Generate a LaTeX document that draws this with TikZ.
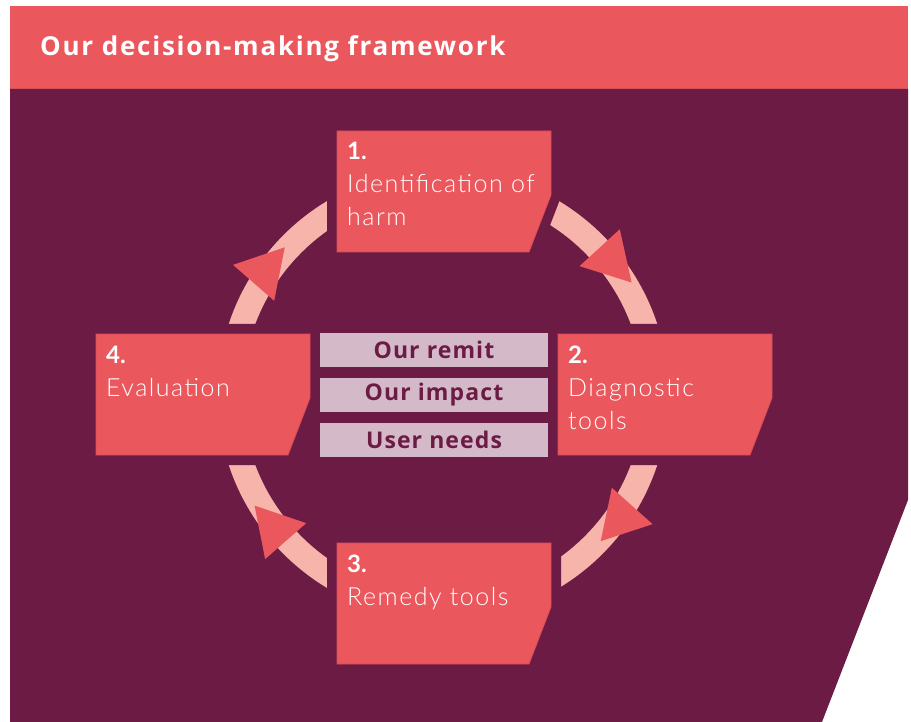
\documentclass[tikz,border=0pt]{standalone}
\usepackage{fontspec}
\setmainfont{Lato}
\newfontfamily\lightfont{Lato Light}[LetterSpace=6]
\newfontfamily\titlefont{Open Sans}[LetterSpace=6.8]
\newfontfamily\tagfont{Open Sans}[LetterSpace=4.8]
\usetikzlibrary{calc,shapes.geometric}
\definecolor{plum}{RGB}{108,27,68}
\definecolor{coral}{RGB}{234,88,94}
\definecolor{coraledge}{RGB}{214,76,86}
\definecolor{blush}{RGB}{247,180,170}
\definecolor{lilac}{RGB}{212,185,201}
\tikzset{
  boxframe/.style={rectangle, minimum width=214, minimum height=121, inner sep=0, outer sep=0},
  halo/.style={fill=plum, draw=plum, line width=20, line join=miter},
  boxfill/.style={fill=coral, draw=coraledge, line width=0.8},
  numtext/.style={anchor=base west, inner sep=0, text=white, font=\bfseries\fontsize{24}{30}\selectfont},
  boxtext/.style={anchor=base west, inner sep=0, text=white, font=\lightfont\fontsize{25}{30}\selectfont},
  tag/.style={rectangle, fill=lilac, minimum width=228, minimum height=34, inner sep=0, text=plum, font=\tagfont\bfseries\fontsize{23}{28}\selectfont},
  arrowhead/.style={regular polygon, regular polygon sides=3, minimum size=63, inner sep=0, outer sep=0, fill=coral}
}
\newcommand\cutbox[3]{%
  \node[boxframe] (#1) at (#2+107,-#3-60.5) {};
  \path[halo] (#1.north west) -- (#1.north east) -- ([yshift=-64]#1.north east) -- ([xshift=-22]#1.south east) -- (#1.south west) -- cycle;
  \path[boxfill] (#1.north west) -- (#1.north east) -- ([yshift=-64]#1.north east) -- ([xshift=-22]#1.south east) -- (#1.south west) -- cycle;
}
\begin{document}
\begin{tikzpicture}[x=1pt,y=1pt]
\useasboundingbox (0,0) rectangle (911,-722);
\fill[white] (0,0) rectangle (911,-722);
% header
\node[fill=coral, minimum width=898, minimum height=83, anchor=north west, inner sep=0, outer sep=0] (header) at (10,-6) {};
\node[anchor=base west, inner sep=0, text=white, font=\titlefont\bfseries\fontsize{26}{30}\selectfont] (title) at (40,-56) {Our decision-making framework};
% background panel
\fill[plum] (10,-89) -- (908,-89) -- (908,-500) -- (822,-722) -- (10,-722) -- cycle;
% cycle ring
\coordinate (ctr) at (443,-394.5);
\draw[blush, line width=25] (ctr) circle[radius=213];
% boxes
\cutbox{b1}{337}{131}
\cutbox{b2}{558}{334}
\cutbox{b3}{337}{543}
\cutbox{b4}{96}{334}
% box texts
\node[numtext] (n1) at ([shift={(10,-29)}]b1.north west) {1.};
\node[boxtext] (t1a) at ([shift={(10,-62)}]b1.north west) {Identification of};
\node[boxtext] (t1b) at ([shift={(10,-95)}]b1.north west) {harm};
\node[numtext] (n2) at ([shift={(10,-29)}]b2.north west) {2.};
\node[boxtext] (t2a) at ([shift={(10,-62)}]b2.north west) {Diagnostic};
\node[boxtext] (t2b) at ([shift={(10,-95)}]b2.north west) {tools};
\node[numtext] (n3) at ([shift={(10,-29)}]b3.north west) {3.};
\node[boxtext] (t3a) at ([shift={(10,-62)}]b3.north west) {Remedy tools};
\node[numtext] (n4) at ([shift={(10,-29)}]b4.north west) {4.};
\node[boxtext] (t4a) at ([shift={(10,-62)}]b4.north west) {Evaluation};
% centre tags
\node[tag] (remit) at (434,-350) {Our remit};
\node[tag] (impact) at (434,-395) {Our impact};
\node[tag] (needs) at (434,-440) {User needs};
% arrowheads
\node[arrowhead, rotate=-137.5] (a12) at (610.3,-259.3) {};
\node[arrowhead, rotate=-221.8] (a23) at (621.7,-517.7) {};
\node[arrowhead, rotate=41.2] (a34) at (275.3,-529.3) {};
\node[arrowhead, rotate=-41.2] (a41) at (264,-271) {};
\end{tikzpicture}
\end{document}
